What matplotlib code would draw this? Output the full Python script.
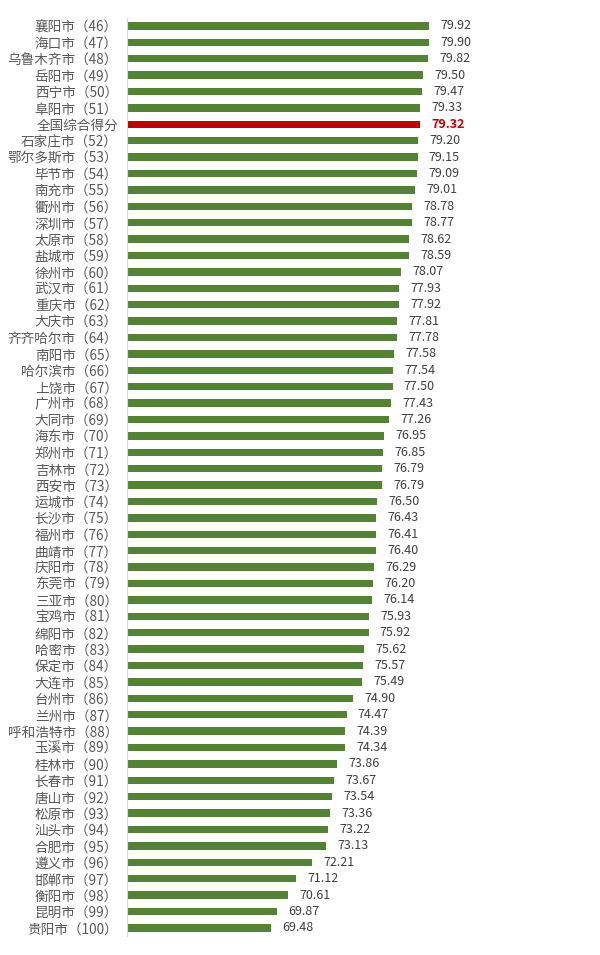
import matplotlib
matplotlib.use("Agg")
import matplotlib.pyplot as plt

plt.rcParams["font.family"] = ["Noto Sans CJK SC", "DejaVu Sans"]

cities = [
    "襄阳市（46）", "海口市（47）", "乌鲁木齐市（48）", "岳阳市（49）", "西宁市（50）",
    "阜阳市（51）", "全国综合得分", "石家庄市（52）", "鄂尔多斯市（53）", "毕节市（54）",
    "南充市（55）", "衢州市（56）", "深圳市（57）", "太原市（58）", "盐城市（59）",
    "徐州市（60）", "武汉市（61）", "重庆市（62）", "大庆市（63）", "齐齐哈尔市（64）",
    "南阳市（65）", "哈尔滨市（66）", "上饶市（67）", "广州市（68）", "大同市（69）",
    "海东市（70）", "郑州市（71）", "吉林市（72）", "西安市（73）", "运城市（74）",
    "长沙市（75）", "福州市（76）", "曲靖市（77）", "庆阳市（78）", "东莞市（79）",
    "三亚市（80）", "宝鸡市（81）", "绵阳市（82）", "哈密市（83）", "保定市（84）",
    "大连市（85）", "台州市（86）", "兰州市（87）", "呼和浩特市（88）", "玉溪市（89）",
    "桂林市（90）", "长春市（91）", "唐山市（92）", "松原市（93）", "汕头市（94）",
    "合肥市（95）", "遵义市（96）", "邯郸市（97）", "衡阳市（98）", "昆明市（99）",
    "贵阳市（100）",
]
scores = [
    79.92, 79.90, 79.82, 79.50, 79.47,
    79.33, 79.32, 79.20, 79.15, 79.09,
    79.01, 78.78, 78.77, 78.62, 78.59,
    78.07, 77.93, 77.92, 77.81, 77.78,
    77.58, 77.54, 77.50, 77.43, 77.26,
    76.95, 76.85, 76.79, 76.79, 76.50,
    76.43, 76.41, 76.40, 76.29, 76.20,
    76.14, 75.93, 75.92, 75.62, 75.57,
    75.49, 74.90, 74.47, 74.39, 74.34,
    73.86, 73.67, 73.54, 73.36, 73.22,
    73.13, 72.21, 71.12, 70.61, 69.87,
    69.48,
]
highlight = "全国综合得分"

green = "#548235"
red = "#C00000"

fig = plt.figure(figsize=(6, 9.55), dpi=100)
ax = fig.add_axes([0.2117, 0.0197, 0.7383, 0.9617])

y = list(range(len(cities)))
colors = [red if c == highlight else green for c in cities]
ax.barh(y, scores, height=0.45, left=0, color=colors)

ax.set_xlim(60, 89.2)
ax.set_ylim(len(cities) - 0.5, -0.5)

for yi, (c, v) in enumerate(zip(cities, scores)):
    if c == highlight:
        ax.text(v + 0.75, yi, f"{v:.2f}", va="center", ha="left",
                fontsize=9, color=red, fontweight="bold")
    else:
        ax.text(v + 0.75, yi, f"{v:.2f}", va="center", ha="left",
                fontsize=9, color="#404040")

ax.set_yticks(y)
ax.set_yticklabels(cities, fontsize=9.8, color="#595959")
ax.tick_params(axis="y", length=0, pad=6.5)
ax.set_xticks([])

for s in ["top", "right", "bottom"]:
    ax.spines[s].set_visible(False)
ax.spines["left"].set_color("#d9d9d9")
ax.spines["left"].set_linewidth(0.8)

fig.savefig("out.png", dpi=100)
